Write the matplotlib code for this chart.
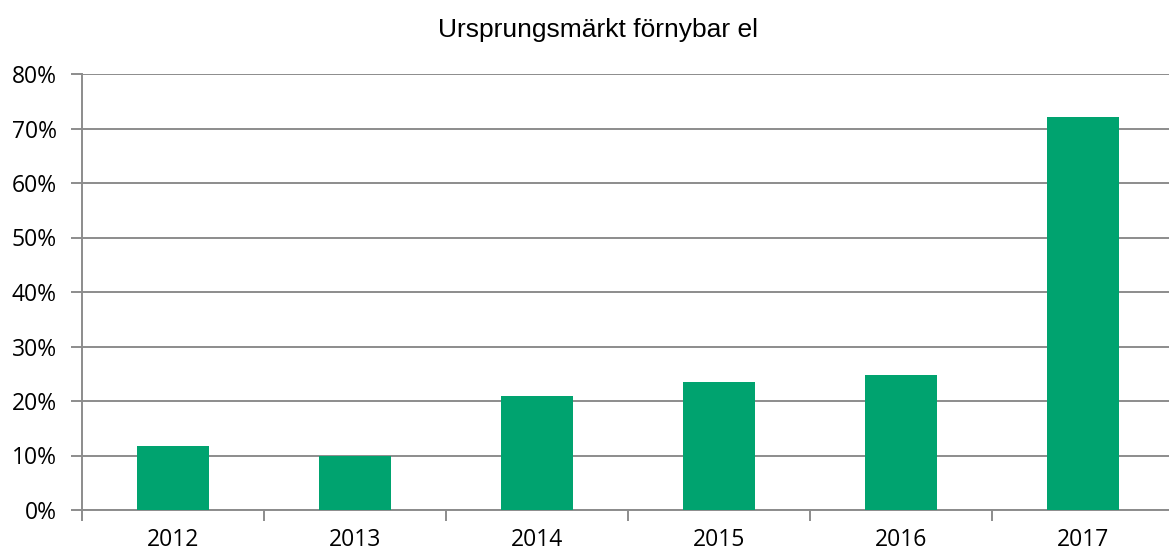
import matplotlib
matplotlib.use("Agg")
import matplotlib.pyplot as plt
from matplotlib.ticker import FuncFormatter

years = ["2012", "2013", "2014", "2015", "2016", "2017"]
values = [11.8, 10.0, 20.9, 23.4, 24.7, 72.2]
title = "Ursprungsmärkt förnybar el"

fig = plt.figure(figsize=(11.69, 5.53), dpi=100)
ax = fig.add_axes([82/1169, 1-510/553, 1-82/1169, (510-74)/553])

x = list(range(len(years)))
ax.bar(x, values, width=0.4, color="#00A36F", zorder=3)

ax.set_ylim(0, 80)
ax.set_xlim(-0.5, 5.5 - 5/182)
ax.set_yticks(range(0, 81, 10))
ax.yaxis.set_major_formatter(FuncFormatter(lambda v, p: f"{int(v)}%"))
ax.grid(axis="y", color="#8c8c8c", linewidth=1.4, zorder=0)

ax.set_xticks(x)
ax.set_xticklabels(years)
ax.set_xticks([i - 0.5 for i in range(len(years))], minor=True)
ax.tick_params(axis="x", which="major", length=0, pad=13)
ax.tick_params(axis="x", which="minor", length=8, width=1.4, color="#8c8c8c")
ax.tick_params(axis="y", length=8, width=1.4, color="#8c8c8c", pad=10)

for lbl in ax.get_xticklabels() + ax.get_yticklabels():
    lbl.set_fontfamily("Open Sans")
    lbl.set_fontsize(16.5)
    lbl.set_color("#000000")

for s in ["top", "right"]:
    ax.spines[s].set_visible(False)
ax.spines["left"].set_color("#8c8c8c")
ax.spines["left"].set_linewidth(1.4)
ax.spines["bottom"].set_color("#8c8c8c")
ax.spines["bottom"].set_linewidth(1.4)

fig.text(598/1169, 1-30/553, title, ha="center", va="center",
         fontfamily="Liberation Sans", fontsize=19)

fig.savefig("out.png", dpi=100)
